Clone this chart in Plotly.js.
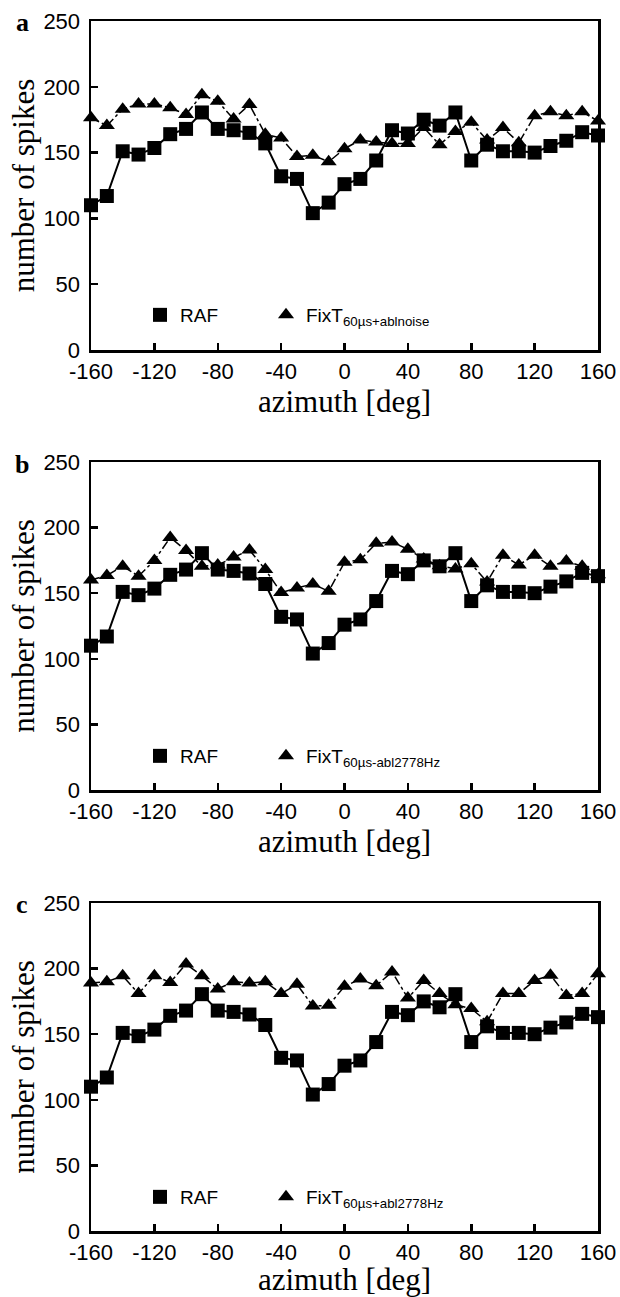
<!DOCTYPE html>
<html><head><meta charset="utf-8">
<script src="https://cdn.plot.ly/plotly-3.0.1.min.js"></script>
<style>html,body{margin:0;padding:0;background:#fff}</style>
</head><body><div id="chart" style="width:620px;height:1297px"></div>
<script>
const azimuth = [-160,-150,-140,-130,-120,-110,-100,-90,-80,-70,-60,-50,-40,-30,-20,-10,0,10,20,30,40,50,60,70,80,90,100,110,120,130,140,150,160];
const rafSpikes = [110,117,151,148.5,153.5,164,168,180.5,168,167,165,157,132,130,104,112,126,130,144,167,164.5,175,170.5,180.5,144,156,151,151,150,155,159,165.5,163];
const fixtAblNoise = [176.5,170.5,183,187,187,184,179,194,189,175.5,186.5,164,161,147,148,143,153,159.5,158,157,157,169,156,166,173,159.5,169,157.5,178,181,178,181,174];
const fixtMinus2778 = [160,163.5,170.5,163,175,192.5,182.5,170.5,171.5,177.5,183,168,150.5,154,157,151.5,173.5,175.5,188,189,183.5,176,171,168.5,172.5,158.5,179,171.5,179,170.5,174.5,170.5,164];
const fixtPlus2778 = [189,190,194.5,181,194.5,189.5,203.5,194.5,184.5,190,189,190,181,188,171.5,172,186.5,192,187,197.5,177.5,191,181,172.5,169.5,159.5,181,181,191,195,179.5,181,196];
const fixtSeries = [fixtAblNoise, fixtMinus2778, fixtPlus2778];
const fixtLabels = ['FixT<sub>60\u00b5s+ablnoise</sub>','FixT<sub>60\u00b5s-abl2778Hz</sub>','FixT<sub>60\u00b5s+abl2778Hz</sub>'];
const rafLabel = 'RAF';
const panelLetters = ['a','b','c'];
const xTickVals = [-160,-120,-80,-40,0,40,80,120,160];
const yTickVals = [0,50,100,150,200,250];
const xTitle = 'azimuth [deg]';
const yTitle = 'number of spikes';

const W = 620, H = 1297;
const mL = 91, mR = 22, mT = 21, mB = 66;
const plotH = H - mT - mB;
const panelTop = [21, 462, 903];
const panelBot = [350, 790, 1231];
const pyFrac = p => (H - mB - p) / plotH;
const pxFrac = p => (p - mL) / (W - mL - mR);

const traces = [];
const layout = {
  width: W, height: H,
  margin: {l: mL, r: mR, t: mT, b: mB},
  paper_bgcolor: '#fff', plot_bgcolor: '#fff',
  showlegend: true,
  annotations: []
};
const tickFont = {family: 'Liberation Sans, Arial, sans-serif', size: 22, color: '#000'};
const titleFont = {family: 'Liberation Serif, Times New Roman, serif', size: 31, color: '#000'};

for (let i = 0; i < 3; i++) {
  const sfx = i === 0 ? '' : String(i + 1);
  const xa = 'x' + sfx, ya = 'y' + sfx;
  const lg = 'legend' + sfx;
  traces.push({x: azimuth, y: fixtSeries[i], xaxis: xa, yaxis: ya, mode: 'lines', showlegend: false,
    line: {color: '#000', width: 1.5, dash: 'dashdot'}, cliponaxis: false, hoverinfo: 'skip'});
  traces.push({x: azimuth, y: rafSpikes, xaxis: xa, yaxis: ya, mode: 'lines', showlegend: false,
    line: {color: '#000', width: 2}, cliponaxis: false, hoverinfo: 'skip'});
  traces.push({x: azimuth, y: rafSpikes, xaxis: xa, yaxis: ya, mode: 'markers', name: rafLabel, legend: lg,
    legendwidth: 81,
    marker: {symbol: 'square', size: 14, color: '#000'}, cliponaxis: false});
  traces.push({x: azimuth, y: fixtSeries[i], xaxis: xa, yaxis: ya, mode: 'markers', name: fixtLabels[i], legend: lg,
    marker: {symbol: 'triangle-up', size: 14, color: '#000'}, cliponaxis: false});

  layout['xaxis' + sfx] = {
    domain: [0, 1], anchor: ya, range: [-160, 160], tickvals: xTickVals, ticktext: xTickVals.map(String),
    ticks: 'inside', ticklen: 7, tickwidth: 2.5, tickcolor: '#000',
    showline: true, linewidth: 2.5, linecolor: '#000', mirror: true,
    showgrid: false, zeroline: false, tickfont: tickFont,
    title: {text: xTitle, font: titleFont, standoff: 0}
  };
  layout['yaxis' + sfx] = {
    domain: [pyFrac(panelBot[i]), pyFrac(panelTop[i])], anchor: xa, range: [0, 250], tickvals: yTickVals,
    ticks: 'inside', ticklen: 7, tickwidth: 2.5, tickcolor: '#000',
    showline: true, linewidth: 2.5, linecolor: '#000', mirror: true,
    showgrid: false, zeroline: false, tickfont: tickFont, ticklabelstandoff: 4,
    title: {text: yTitle, font: titleFont, standoff: 0}
  };
  const legendY = pyFrac(315 + 441 * i);
  layout[lg] = {
    x: pxFrac(140), xanchor: 'left', y: legendY, yanchor: 'middle',
    orientation: 'h', bgcolor: 'rgba(0,0,0,0)', borderwidth: 0,
    font: {family: 'Liberation Sans, Arial, sans-serif', size: 19, color: '#000'},
    itemclick: false, itemdoubleclick: false
  };
  layout.annotations.push({
    xref: 'paper', yref: 'paper', x: pxFrac(22), y: pyFrac(panelTop[i] + 2), xanchor: 'center', yanchor: 'middle',
    text: '<b>' + panelLetters[i] + '</b>', showarrow: false,
    font: {family: 'Liberation Serif, Times New Roman, serif', size: 26, color: '#000'}
  });
}

Plotly.newPlot('chart', traces, layout, {displayModeBar: false, staticPlot: true});
</script>
</body></html>
